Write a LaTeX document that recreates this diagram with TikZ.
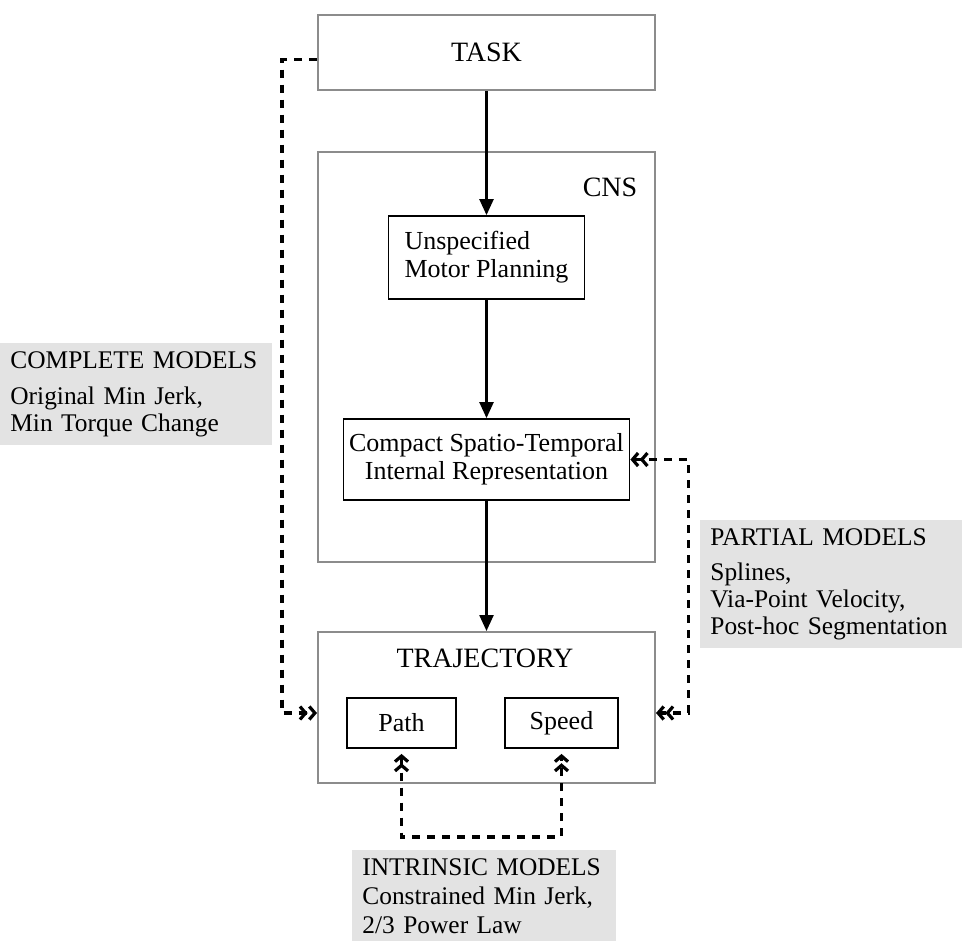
\documentclass[tikz,border=0pt]{standalone}
\usepackage{fontspec}
\setmainfont{Liberation Serif}
\usetikzlibrary{arrows.meta}
\definecolor{FrameGray}{HTML}{8C8C8C}
\definecolor{NoteGray}{HTML}{E3E3E3}

\begin{document}
\begin{tikzpicture}[x=0.5pt,y=-0.5pt,
    >={Straight Barb[length=2.8pt,width=6.5pt]},
    frame/.style={draw=FrameGray,line width=1pt,inner sep=0pt},
    stage/.style={draw,line width=0.9pt,inner sep=0pt,font=\fontsize{13}{14}\selectfont},
    title/.style={font=\fontsize{14}{15}\selectfont},
    flow/.style={line width=1.2pt,-{Triangle[length=8pt,width=7pt]}},
    modellink/.style={line width=1.6pt,dash pattern=on 4pt off 3.5pt},
    note/.style={fill=NoteGray,anchor=north west,align=left,inner xsep=5pt,inner ysep=4pt,
      font=\fontsize{12.7}{13.5}\selectfont,execute at begin node={\hyphenpenalty=10000\relax}}]
  \useasboundingbox (0,0) rectangle (962,944);
  \node[frame,title,minimum width=168.5pt,minimum height=37.5pt] (task) at (486.5,52.5) {TASK};
  \node[frame,minimum width=168.5pt,minimum height=205pt] (cns) at (486.5,357) {};
  \node[title] (cnslabel) at (610,187) {CNS};
  \node[stage,align=left,minimum width=98pt,minimum height=41.5pt] (plan) at (486.5,257.5)
    {Unspecified\\Motor Planning};
  \node[stage,align=center,minimum width=143pt,minimum height=40.5pt] (compact) at (486.5,459.5)
    {Compact Spatio-Temporal\\Internal Representation};
  \node[frame,minimum width=168.5pt,minimum height=75.5pt] (traj) at (486.5,707.5) {};
  \node[title] (trajlabel) at (485,658) {TRAJECTORY};
  \node[stage,minimum width=54.5pt,minimum height=25pt] (pathbox) at (401.5,723) {Path};
  \node[stage,minimum width=56.5pt,minimum height=25pt] (speedbox) at (561.5,723) {Speed};
  \node[note,text width=126pt] (complete) at (0,343)
    {COMPLETE MODELS\\[4.5pt]Original Min Jerk,\\Min Torque Change};
  \node[note,text width=121pt] (partial) at (700,520)
    {PARTIAL MODELS\\[4pt]Splines,\\Via-Point Velocity,\\Post-hoc Segmentation};
  \node[note,text width=122pt] (intrinsic) at (352,850)
    {INTRINSIC MODELS\\[1pt]Constrained Min Jerk,\\[1pt]2/3 Power Law};
  \coordinate (linkrow) at (0,713);

  \draw[flow] (task) -- (plan);
  \draw[flow] (plan) -- (compact);
  \draw[flow] (compact) -- (traj);
  \draw[modellink,->>] ([yshift=-3.5pt]task.west) -- ++(-35,0) |- (traj.west |- linkrow);
  \draw[modellink,<<->>] (compact.east) -- ++(58,0) |- (traj.east |- linkrow);
  \draw[modellink,<<->>,shorten <=2.5pt,shorten >=2.5pt] (pathbox.south) -- ++(0,88) -| (speedbox.south);
\end{tikzpicture}
\end{document}
